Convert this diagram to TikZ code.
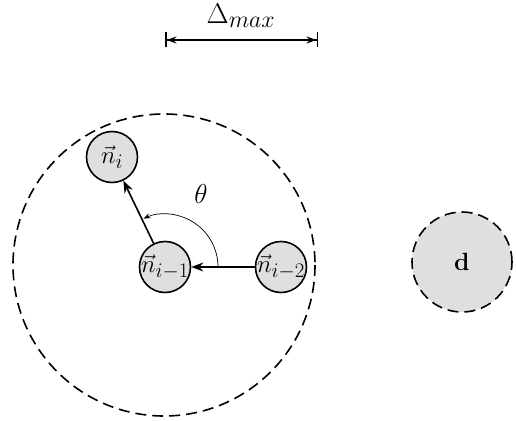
\documentclass[tikz,border=0pt]{standalone}
\usepackage{graphicx}
\usetikzlibrary{arrows.meta}
\begin{document}
\begin{tikzpicture}[x=1pt,y=-1pt,
  nd/.style={circle,draw,line width=1.6pt,fill=gray!25,minimum size=51pt,inner sep=0pt,font=\Huge},
  conn/.style={line width=1.6pt,-{Stealth[length=12pt,width=9pt]}},
  dsh/.style={line width=1.6pt,dash pattern=on 11pt off 6pt}]
\useasboundingbox (0,0) rectangle (516,420);
\draw[dsh] (164,265) circle[radius=151];
\node[nd] (a) at (165,267) {\makebox[0pt]{$\vec{n}_{i-1}$}};
\node[nd] (b) at (281,267) {\makebox[0pt]{$\vec{n}_{i-2}$}};
\node[nd] (c) at (112,157) {\makebox[0pt]{$\vec{n}_{i}$}};
\node[circle,draw,dsh,fill=gray!25,minimum size=100pt,inner sep=0pt,font=\Huge] (d) at (462,262) {$\mathbf{d}$};
\draw[conn] (b) -- (a);
\draw[conn] (a) -- (c);
\draw[line width=0.7pt,-{Stealth[length=7pt,width=5pt]}] ([shift={(0:53)}]165,267) arc[start angle=0,end angle=-114,radius=53];
\node[font=\Huge] (t) at (201,194) {\scalebox{1.1}{$\theta$}};
\coordinate (l) at (165,40);
\coordinate (r) at (318,40);
\draw[line width=1.5pt,{Bar[width=15pt]Stealth[length=10pt,width=7pt]}-{Stealth[length=10pt,width=7pt]Bar[width=15pt]}] (l) -- (r);
\node[font=\Huge] (dm) at (241,16) {\scalebox{1.15}{$\Delta_{max}$}};
\end{tikzpicture}
\end{document}
